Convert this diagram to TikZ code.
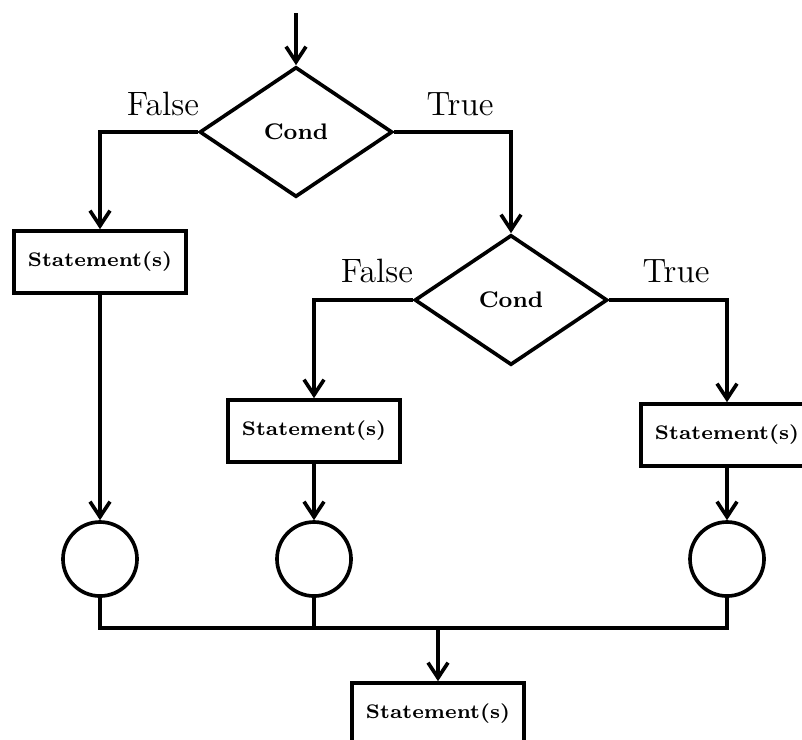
\documentclass[tikz,border=0pt]{standalone}
\usepackage{tikz}
\usetikzlibrary{arrows.meta,shapes.geometric}

\begin{document}
\begin{tikzpicture}[->,line width=1.3pt,>={Straight Barb[length=1.9mm,width=2.5mm]},x=0.0125cm,y=-0.0125cm]
    \tikzstyle{cond}=[draw, diamond, minimum width=2.41cm, minimum height=1.625cm, inner sep=0pt, font=\footnotesize\bfseries]
    \tikzstyle{stmt}=[draw, rectangle, minimum width=2.15cm, minimum height=0.775cm, inner sep=0pt, font=\scriptsize\bfseries]
    \tikzstyle{merge}=[draw, circle, minimum size=0.925cm, inner sep=0pt]
    \tikzstyle{branch}=[font=\large, anchor=base]
    \tikzstyle{elbow}=[to path={-| (\tikztotarget)}]

    \clip (0,0) rectangle (802,739);

    \coordinate (in) at (296,13);
    \node[cond] (cond1) at (296,132) {Cond};
    \node[cond] (cond2) at (511,300) {Cond};
    \node[stmt] (stm1)  at (100,262) {Statement(s)};
    \node[stmt] (stm2)  at (314,431) {Statement(s)};
    \node[stmt] (stm3)  at (727,435) {Statement(s)};
    \node[merge] (m1)   at (100,559) {};
    \node[merge] (m2)   at (314,559) {};
    \node[merge] (m3)   at (727,559) {};
    \coordinate (join) at (438,628);
    \node[stmt] (stm4)  at (438,714) {Statement(s)};

    % branch labels
    \node[branch] (f1) at (163,115) {False};
    \node[branch] (t1) at (460,115) {True};
    \node[branch] (f2) at (377,282) {False};
    \node[branch] (t2) at (676,282) {True};

    \path
     (in) edge[] (cond1)
     (cond1.west) edge[elbow] (stm1)
     (cond1.east) edge[elbow] (cond2)
     (cond2.west) edge[elbow] (stm2)
     (cond2.east) edge[elbow] (stm3)
     (stm1) edge[] (m1)
     (stm2) edge[] (m2)
     (stm3) edge[] (m3)
     (join) edge[] (stm4)
     ;
    \draw[-] (m1) |- (join) -| (m3);
    \draw[-] (m2) -- (m2 |- join);
  \end{tikzpicture}
\end{document}
